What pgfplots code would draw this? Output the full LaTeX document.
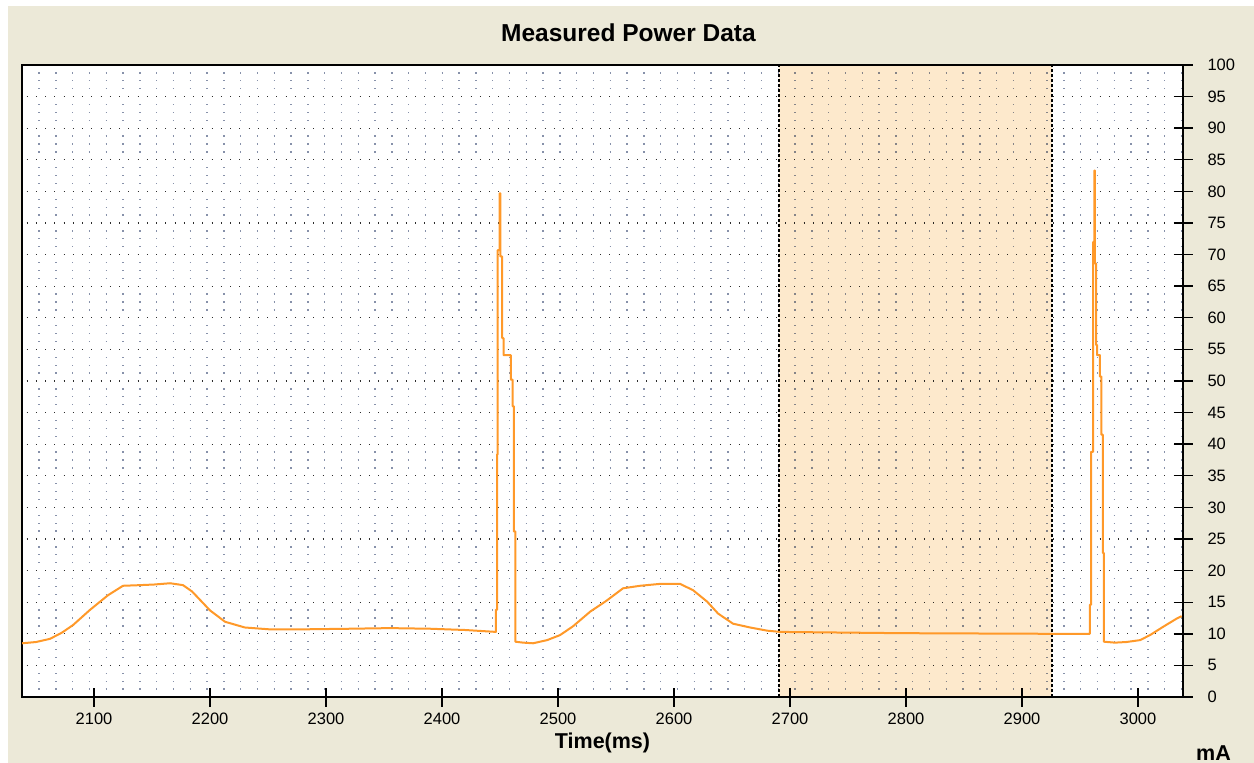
\documentclass[border=0pt]{standalone}
\usepackage{fontspec}
\setmainfont{Liberation Sans}
\usepackage{pgfplots}
\pgfplotsset{compat=1.18}
\definecolor{bg}{RGB}{236,233,216}
\definecolor{shade}{RGB}{253,233,204}
\definecolor{curve}{RGB}{255,153,41}
\definecolor{dotgray}{RGB}{135,145,170}
\definecolor{dotdark}{RGB}{45,45,45}
\begin{document}
\begin{tikzpicture}
\fill[white] (-11bp,-33bp) rectangle (616bp,348.5bp);
\fill[bg] (-7bp,-33bp) rectangle (616bp,345.5bp);
\begin{axis}[
  name=ax,
  at={(0,0)}, anchor=south west,
  scale only axis, width=580.5bp, height=316bp,
  xmin=2037.9, xmax=3038.8, ymin=0, ymax=100,
  axis background/.style={fill=white},
  axis line style={black, line width=1bp},
  xtick={2100,2200,...,3000},
  ytick={0,5,...,100},
  xtick pos=bottom, ytick pos=right,
  yticklabel pos=right,
  tick align=center, major tick length=9.5bp, minor tick length=0pt,
  tick style={black, line width=0.7bp},
  /pgf/number format/assume math mode=true,
  /pgf/number format/1000 sep={},
  xticklabel style={font=\fontsize{8.25bp}{10bp}\selectfont, anchor=base, yshift=-9bp},
  yticklabel style={font=\fontsize{8.25bp}{10bp}\selectfont, anchor=west, xshift=4bp},
  ymajorgrids, yminorgrids, minor y tick num=3,
  major grid style={draw=dotdark, line width=0.55bp, dash pattern=on 0.55bp off 4.075bp, dash phase=2.375bp},
  minor grid style={draw=dotgray, line width=0.65bp, dash pattern=on 0.65bp off 7.75bp, dash phase=0.2bp},
  every axis title/.style={at={(axis description cs:0.5,1)}, anchor=base, yshift=11.65bp, xshift=13bp, font=\bfseries\fontsize{12.25bp}{14bp}\selectfont},
  title={Measured Power Data},
  every axis x label/.style={at={(axis description cs:0.5,0)}, anchor=base, yshift=-25.65bp, font=\bfseries\fontsize{10.75bp}{13bp}\selectfont},
  xlabel={Time(ms)},
]
\addplot[draw=none, fill=shade, blend mode=multiply] coordinates {(2690.6,0) (2690.6,100) (2926,100) (2926,0)} \closedcycle;
\addplot[black, line width=0.7bp, dash pattern=on 1.5bp off 1bp] coordinates {(2690.6,0) (2690.6,100)};
\addplot[black, line width=0.7bp, dash pattern=on 1.5bp off 1bp] coordinates {(2926,0) (2926,100)};
\addplot[curve, line width=1bp, line join=round] coordinates {
(2038,8.5) (2050,8.7) (2062,9.2) (2072.5,10.2) (2082,11.4) (2096.6,13.8) (2112,16.1) (2125,17.6)
(2139.7,17.7) (2152,17.8) (2165.6,18.0) (2176.7,17.7) (2184.5,16.7) (2200,13.7) (2213,11.9)
(2230,11.0) (2251.7,10.7) (2277.6,10.7) (2320,10.8) (2355,10.9) (2390,10.8) (2420,10.6) (2446.4,10.3)
(2446.4,13.8) (2447.5,13.8) (2447.5,38.4) (2448.0,38.4) (2448.0,70.7) (2449.6,70.7) (2449.6,79.7)
(2450.3,79.7) (2450.3,69.7) (2451.8,69.7) (2451.8,56.8) (2453,56.8) (2453,54.1) (2459.3,54.1)
(2459.3,50.2) (2460.8,50.2) (2460.8,46) (2461.9,46) (2461.9,26.2) (2463.2,26.2) (2463.2,8.75)
(2470,8.6) (2478.5,8.5) (2490.6,9.0) (2501.8,9.8) (2513,11.2) (2527.7,13.5) (2542.3,15.3)
(2556.1,17.2) (2570.8,17.6) (2588,17.9) (2605.2,17.9) (2616.4,16.9) (2628.5,15.1) (2638,13.2)
(2650.9,11.6) (2665.6,11.0) (2680.2,10.5) (2691.4,10.3) (2794.9,10.1) (2924.2,10.0) (2958.5,10.0)
(2958.5,14.6) (2959.6,14.6) (2959.6,38.8) (2961.3,38.8) (2961.3,72) (2962.3,72) (2962.3,83.3)
(2962.8,83.3) (2962.8,68.6) (2963.9,68.6) (2963.9,55.7) (2964.7,55.7) (2964.7,54.1) (2967.1,54.1)
(2967.1,50.7) (2968.5,50.7) (2968.5,41.5) (2969.7,41.5) (2969.7,22.8) (2970.6,22.8) (2970.6,8.75)
(2980,8.6) (2990,8.7) (3001.8,9.0) (3010.4,9.8) (3021.6,11.1) (3033.3,12.4) (3037.6,12.8)
};
\end{axis}
\node[anchor=base, inner sep=0pt, font=\bfseries\fontsize{10.75bp}{13bp}\selectfont] at (595.75bp,-31.5bp) {mA};
\pgfresetboundingbox
\useasboundingbox (-11bp,-33bp) rectangle (616bp,348.5bp);
\end{tikzpicture}
\end{document}
